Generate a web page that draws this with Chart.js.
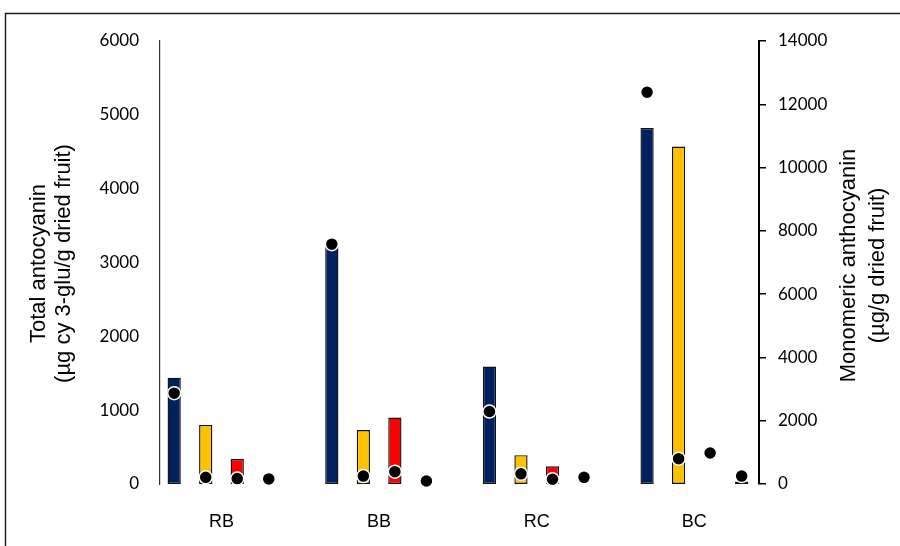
<!DOCTYPE html>
<html>
<head>
<meta charset="utf-8">
<title>Total and monomeric anthocyanin</title>
<script src="https://cdn.jsdelivr.net/npm/chart.js@4.4.1/dist/chart.umd.min.js"></script>
<style>
  html, body { margin: 0; padding: 0; background: #fff; }
  #wrap { width: 900px; height: 546px; position: relative; }
</style>
</head>
<body>
<div id="wrap"><canvas id="chart" width="900" height="546"></canvas></div>
<script>
// Samples on the category axis
const categories = ['RB', 'BB', 'RC', 'BC'];
const seriesNames = ['Treatment 1', 'Treatment 2', 'Treatment 3', 'Treatment 4'];

// Total anthocyanin (µg cy 3-glu/g dried fruit), left axis - bars
const totalT1 = [1440, 3220, 1590, 4820];
const totalT2 = [800, 730, 390, 4570];
const totalT3 = [340, 900, 240, 0];
const totalT4 = [0, 15, 0, 35];

// Monomeric anthocyanin (µg/g dried fruit), right axis - dots
const monoT1 = [2870, 7580, 2290, 12380];
const monoT2 = [210, 250, 320, 800];
const monoT3 = [170, 390, 150, 980];
const monoT4 = [160, 95, 210, 250];

// Axis ticks
const leftTicks = [0, 1000, 2000, 3000, 4000, 5000, 6000];
const rightTicks = [0, 2000, 4000, 6000, 8000, 10000, 12000, 14000];

// Axis titles (one entry per line)
const leftTitle = ['Total antocyanin', '(µg cy 3-glu/g dried fruit)'];
const rightTitle = ['Monomeric anthocyanin', '(µg/g dried fruit)'];

const totals = [totalT1, totalT2, totalT3, totalT4];
const monos = [monoT1, monoT2, monoT3, monoT4];
const barColors = ['#002060', '#FFC000', '#FF0000', '#BFBFBF'];

// Bars of one sample share a group; dots sit on the centre of their bar's slot
const CAT_PCT = 0.8;
const BAR_PCT = 0.42;
const nSeries = totals.length;
const slotOffset = k => (k - (nSeries - 1) / 2) * CAT_PCT / nSeries;

const tickFont = { family: 'Lato, "Open Sans", sans-serif', size: 17 };
const plainNumber = v => String(v);

const dotSets = monos.map((vals, k) => ({
  type: 'scatter',
  label: seriesNames[k] + ' (monomeric)',
  yAxisID: 'y1',
  order: 0,
  data: vals.map((v, i) => ({ x: i + slotOffset(k), y: v })),
  pointRadius: 6.5,
  pointHoverRadius: 6.5,
  pointBorderWidth: 1.5,
  pointBackgroundColor: '#000',
  pointBorderColor: '#fff',
  clip: false
}));

const barSets = totals.map((vals, k) => ({
  type: 'bar',
  label: seriesNames[k],
  yAxisID: 'y',
  order: 1,
  data: vals.map((v, i) => ({ x: i, y: v })),
  backgroundColor: barColors[k],
  borderColor: '#111',
  borderWidth: 1.4,
  borderSkipped: false,
  categoryPercentage: CAT_PCT,
  barPercentage: BAR_PCT
}));

// Outer frame line along the top and left edges
const framePlugin = {
  id: 'frame',
  beforeDraw(chart) {
    const ctx = chart.ctx;
    ctx.save();
    ctx.strokeStyle = '#1a1a1a';
    ctx.lineWidth = 1.4;
    ctx.beginPath();
    ctx.moveTo(5.5, 546);
    ctx.lineTo(5.5, 13.5);
    ctx.lineTo(900, 13.5);
    ctx.stroke();
    ctx.restore();
  }
};

// Both axis titles read bottom-to-top
const titlePlugin = {
  id: 'axisTitles',
  afterDraw(chart) {
    const { ctx, chartArea } = chart;
    const cy = (chartArea.top + chartArea.bottom) / 2;
    ctx.save();
    ctx.fillStyle = '#000';
    ctx.font = '22px "Liberation Sans", Arial, sans-serif';
    ctx.textAlign = 'center';
    ctx.textBaseline = 'middle';
    const drawUp = (text, x, y) => {
      ctx.save();
      ctx.translate(x, y);
      ctx.rotate(-Math.PI / 2);
      ctx.fillText(text, 0, 0);
      ctx.restore();
    };
    leftTitle.forEach((t, i) => drawUp(t, 39 + i * 25, cy + 1));
    rightTitle.forEach((t, i) => drawUp(t, 849 + i * 29, cy + 3));
    ctx.restore();
  }
};

new Chart(document.getElementById('chart'), {
  type: 'bar',
  data: { datasets: [...dotSets, ...barSets] },
  plugins: [framePlugin, titlePlugin],
  options: {
    responsive: false,
    animation: false,
    layout: { padding: { top: 41, left: 0, right: 0, bottom: 0 } },
    plugins: { legend: { display: false }, tooltip: { enabled: false } },
    scales: {
      x: {
        type: 'linear',
        offset: false,
        min: -0.39,
        max: 3.41,
        grid: { display: false },
        border: { display: false },
        afterBuildTicks: s => { s.ticks = categories.map((_, i) => ({ value: i })); },
        afterFit: s => { s.height = 62; },
        ticks: {
          callback: v => categories[v],
          padding: 19,
          color: '#000',
          font: { family: '"Liberation Sans", Arial, sans-serif', size: 18 },
          maxRotation: 0
        }
      },
      y: {
        position: 'left',
        min: 0,
        max: 6000,
        grid: { display: false },
        border: { display: true, color: '#333', width: 1.2 },
        afterBuildTicks: s => { s.ticks = leftTicks.map(v => ({ value: v })); },
        afterFit: s => { s.width = 160; },
        ticks: { padding: 13, color: '#000', font: tickFont, callback: plainNumber }
      },
      y1: {
        position: 'right',
        min: 0,
        max: 14000,
        grid: { display: true, drawOnChartArea: false, drawTicks: true, tickLength: 7, color: '#000', lineWidth: 1.5 },
        border: { display: true, color: '#000', width: 2 },
        afterBuildTicks: s => { s.ticks = rightTicks.map(v => ({ value: v })); },
        afterFit: s => { s.width = 141; },
        ticks: { padding: 12, color: '#000', font: tickFont, callback: plainNumber }
      }
    }
  }
});
</script>
</body>
</html>
